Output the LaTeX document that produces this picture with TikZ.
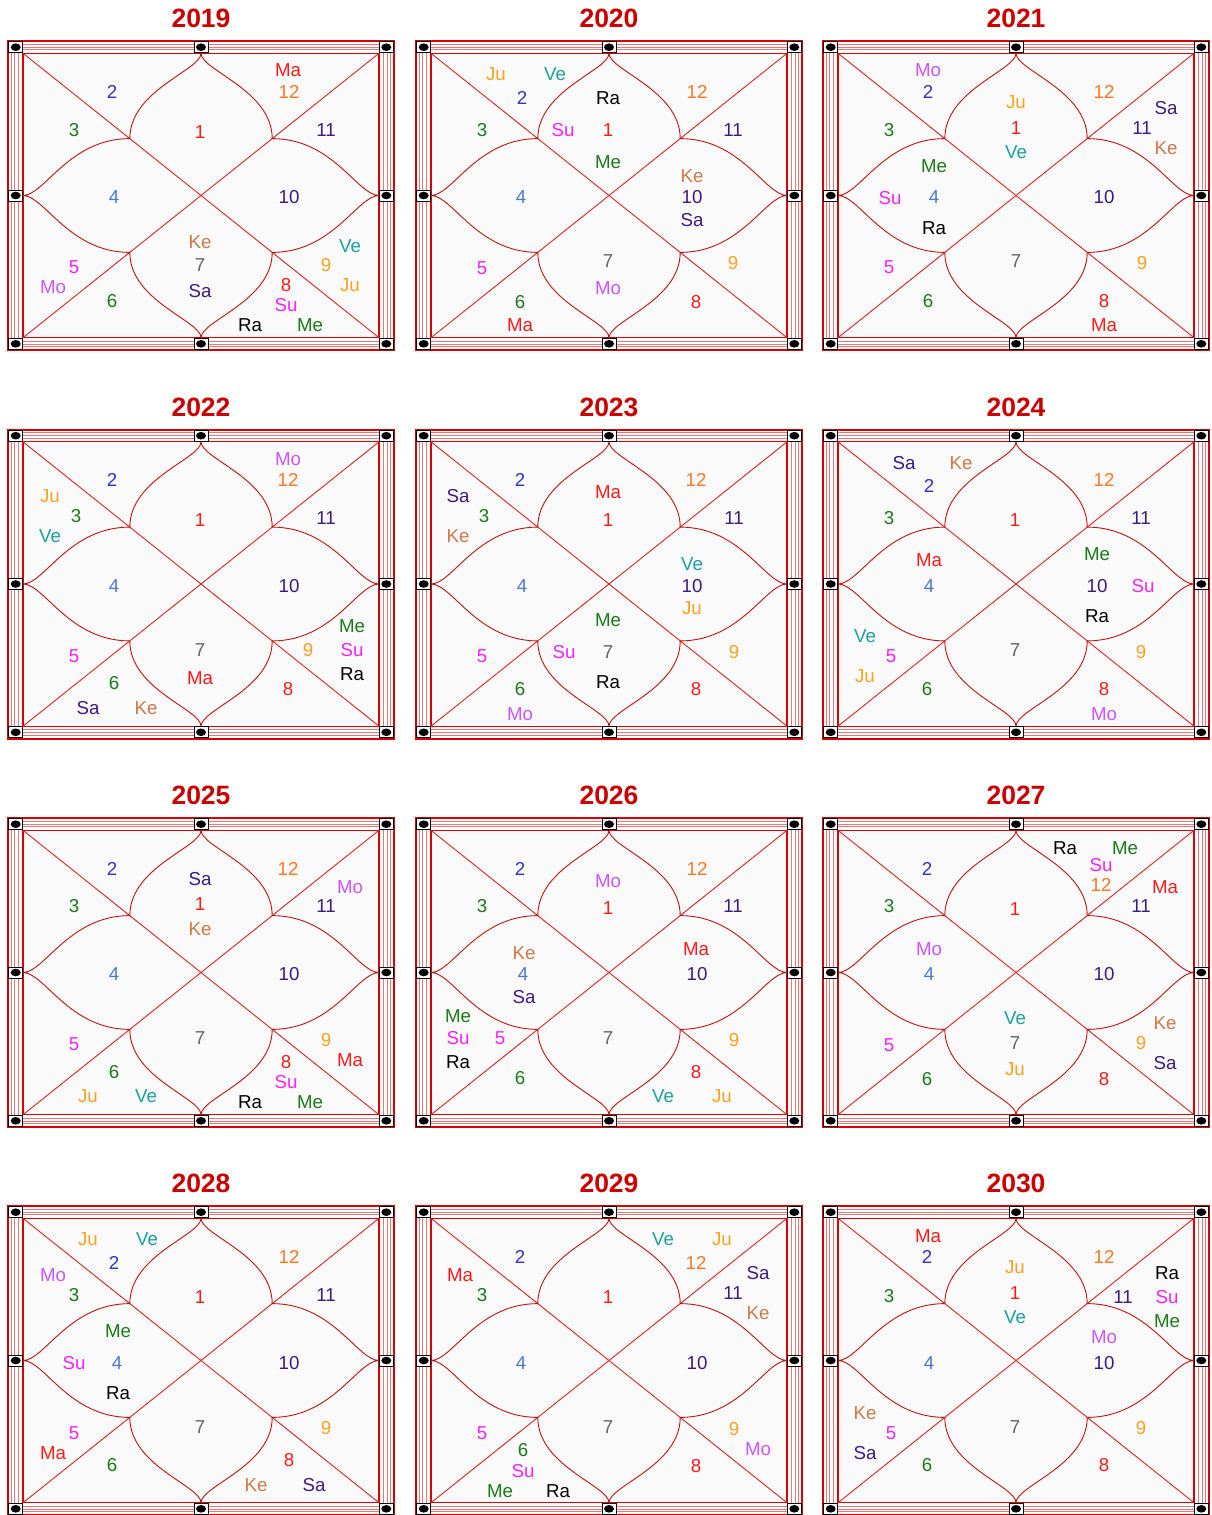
\documentclass[tikz,border=0pt]{standalone}
\usepackage{fontspec}
\setmainfont{Liberation Sans}

% house numbers
\definecolor{c1}{HTML}{FF1A1A}
\definecolor{c2}{HTML}{3333CC}
\definecolor{c3}{HTML}{1A7A1A}
\definecolor{c4}{HTML}{4A78D0}
\definecolor{c5}{HTML}{FF20FF}
\definecolor{c6}{HTML}{1A7A1A}
\definecolor{c7}{HTML}{666666}
\definecolor{c8}{HTML}{FF1A1A}
\definecolor{c9}{HTML}{FFA020}
\definecolor{c10}{HTML}{3D1A80}
\definecolor{c11}{HTML}{3D1A80}
\definecolor{c12}{HTML}{FF7722}
% planets
\definecolor{cMa}{HTML}{FF1A1A}
\definecolor{cVe}{HTML}{1AA0A0}
\definecolor{cJu}{HTML}{FFA020}
\definecolor{cMo}{HTML}{CC55FF}
\definecolor{cSa}{HTML}{3D1A80}
\definecolor{cKe}{HTML}{D07848}
\definecolor{cRa}{HTML}{000000}
\definecolor{cSu}{HTML}{FF20FF}
\definecolor{cMe}{HTML}{1A7A1A}
% frame
\definecolor{cYear}{HTML}{CC0000}
\definecolor{cRim}{HTML}{DD0000}
\definecolor{cBand}{HTML}{E87878}
\definecolor{cDiag}{HTML}{DD2222}
\definecolor{cPetal}{HTML}{C41010}
\definecolor{cField}{HTML}{FAFAFA}

% one chart: #1,#2 top-left corner, #3 year, #4 name
\newcommand{\kundli}[4]{%
\begin{scope}[shift={(#1,#2)}]
  \fill[field] (16,13.3) rectangle (372,297.7);
  \draw[band] (4.5,4.3) rectangle (383.5,306.7);
  \draw[band] (7.8,7) rectangle (380.2,304);
  \draw[band] (11.2,9.7) rectangle (376.8,301.3);
  \draw[rim, line width=1.2pt] (16,13.3) rectangle (372,297.7);
  \draw[rim, line width=2pt] (1,1) rectangle (387,310);
  \draw[diag] (16,13.3) -- (372,297.7);
  \draw[diag] (372,13.3) -- (16,297.7);
  \draw[petal] (194,13.3) .. controls (194,30.3) and (122.8,50) .. (122.8,98.6)
    .. controls (61.9,98.6) and (37.4,155.5) .. (16,155.5)
    .. controls (37.4,155.5) and (61.9,212.4) .. (122.8,212.4)
    .. controls (122.8,261) and (194,280.7) .. (194,297.7)
    .. controls (194,280.7) and (265.2,261) .. (265.2,212.4)
    .. controls (326.1,212.4) and (350.6,155.5) .. (372,155.5)
    .. controls (350.6,155.5) and (326.1,98.6) .. (265.2,98.6)
    .. controls (265.2,50) and (194,30.3) .. (194,13.3);
  \foreach \p/\q/\s in {8.7/7.2/tl, 194/7.2/tm, 379.3/7.2/tr, 8.7/155.5/ml,
      379.3/155.5/mr, 8.7/303.8/bl, 194/303.8/bm, 379.3/303.8/br}
    \node[stud] (#4-\s) at (\p,\q) {};
  \node[yr] (#4) at (194,-21.7) {#3};
\end{scope}}

\begin{document}
\begin{tikzpicture}[x=1pt, y=-1pt,
    field/.style={fill=cField},
    band/.style={draw=cBand, line width=0.9pt},
    rim/.style={draw=cRim},
    diag/.style={draw=cDiag, line width=0.9pt},
    petal/.style={draw=cPetal, line width=0.9pt},
    stud/.style={draw=black, line width=1pt, fill=white, inner sep=0pt,
      minimum width=14pt, minimum height=11pt,
      path picture={\fill[black] (path picture bounding box.center)
        ellipse [x radius=5pt, y radius=3.8pt];}},
    yr/.style={font=\fontsize{26.5pt}{30pt}\selectfont\bfseries, text=cYear,
      inner sep=0pt, text height=19pt, text depth=0pt},
    lbl/.style={font=\fontsize{18.7pt}{20pt}\selectfont, inner sep=0pt,
      text height=13.4pt, text depth=0pt}]
\fill[white] (0,0) rectangle (1211,1515);
\useasboundingbox (0,0) rectangle (1211,1515);

% row 1
\kundli{7}{40}{2019}{y2019}
\kundli{415}{40}{2020}{y2020}
\kundli{822}{40}{2021}{y2021}
% row 2
\kundli{7}{428.5}{2022}{y2022}
\kundli{415}{428.5}{2023}{y2023}
\kundli{822}{428.5}{2024}{y2024}
% row 3
\kundli{7}{817}{2025}{y2025}
\kundli{415}{817}{2026}{y2026}
\kundli{822}{817}{2027}{y2027}
% row 4
\kundli{7}{1205}{2028}{y2028}
\kundli{415}{1205}{2029}{y2029}
\kundli{822}{1205}{2030}{y2030}

% houses and planets
\foreach \t/\x/\y in {Ma/288/70, 12/289/92, 2/112/92, 3/74/130, 1/200/132,
    11/326/130, 4/114/197, 10/289/197, Ke/200/242, 7/200/265, Sa/200/291,
    Ve/350/246, 9/326/265, Ju/350/285, 5/74/267, Mo/53/287, 6/112/301,
    8/286/285, Su/286/305, Ra/250/325, Me/310/325}
  \node[lbl, text=c\t] (y2019-\t) at (\x,\y) {\t};
\foreach \t/\x/\y in {Ju/496/74, Ve/555/74, 2/522/98, Ra/608/98, 12/697/92,
    3/482/130, Su/563/130, 1/608/130, 11/733/130, Me/608/162, Ke/692/176,
    10/692/197, Sa/692/220, 4/521/197, 7/608/261, Mo/608/288, 5/482/268,
    9/733/263, 6/520/302, Ma/520/325, 8/696/302}
  \node[lbl, text=c\t] (y2020-\t) at (\x,\y) {\t};
\foreach \t/\x/\y in {Mo/928/70, 2/928/92, Ju/1016/102, 1/1016/128,
    Ve/1016/152, 12/1104/92, Sa/1166/108, 11/1142/128, Ke/1166/148,
    3/889/130, Me/934/166, Su/890/198, 4/934/197, Ra/934/228, 10/1104/197,
    5/889/267, 7/1016/261, 9/1142/263, 6/928/301, 8/1104/301, Ma/1104/325}
  \node[lbl, text=c\t] (y2021-\t) at (\x,\y) {\t};
\foreach \t/\x/\y in {Mo/288/459, 12/288/480, 2/112/480, Ju/50/496,
    3/76/516, Ve/50/536, 1/200/520, 11/326/518, 4/114/586, 10/289/586,
    Me/352/626, 9/308/650, Su/352/650, Ra/352/674, 5/74/656, 7/200/650,
    Ma/200/678, 6/114/683, Sa/88/708, Ke/146/708, 8/288/689}
  \node[lbl, text=c\t] (y2022-\t) at (\x,\y) {\t};
\foreach \t/\x/\y in {2/520/480, Sa/458/496, 3/484/516, Ke/458/536,
    Ma/608/492, 1/608/520, 12/696/480, 11/734/518, 4/522/586, Ve/692/564,
    10/692/586, Ju/692/608, Me/608/620, 5/482/656, Su/564/652, 7/608/652,
    Ra/608/682, 9/734/652, 6/520/689, Mo/520/714, 8/696/689}
  \node[lbl, text=c\t] (y2023-\t) at (\x,\y) {\t};
\foreach \t/\x/\y in {Sa/904/463, Ke/961/463, 2/929/486, 12/1104/480,
    3/889/518, 1/1015/520, 11/1141/518, Ma/929/560, 4/929/586, Me/1097/554,
    10/1097/586, Su/1143/586, Ra/1097/616, Ve/865/636, 5/891/656,
    Ju/865/676, 7/1015/650, 9/1141/652, 6/927/689, 8/1104/689, Mo/1104/714}
  \node[lbl, text=c\t] (y2024-\t) at (\x,\y) {\t};
\foreach \t/\x/\y in {2/112/869, Sa/200/879, 1/200/904, Ke/200/929,
    12/288/869, Mo/350/887, 11/326/906, 3/74/906, 4/114/974, 10/289/974,
    5/74/1044, 7/200/1038, 9/326/1040, Ma/350/1060, 8/286/1062, Su/286/1082,
    6/114/1072, Ju/88/1096, Ve/146/1096, Ra/250/1102, Me/310/1102}
  \node[lbl, text=c\t] (y2025-\t) at (\x,\y) {\t};
\foreach \t/\x/\y in {2/520/869, Mo/608/881, 1/608/908, 12/697/869,
    11/733/906, 3/482/906, Ke/524/953, 4/523/974, Sa/524/997, Ma/696/949,
    10/697/974, Me/458/1016, Su/458/1038, 5/500/1038, Ra/458/1062,
    7/608/1038, 9/734/1040, 6/520/1078, 8/696/1072, Ve/663/1096, Ju/722/1096}
  \node[lbl, text=c\t] (y2026-\t) at (\x,\y) {\t};
\foreach \t/\x/\y in {Ra/1065/848, Me/1125/848, Su/1101/865, 12/1101/885,
    Ma/1165/887, 11/1141/906, 2/927/869, 3/889/906, 1/1015/909, Mo/929/949,
    4/929/974, 10/1104/974, Ve/1015/1018, 7/1015/1043, Ju/1015/1069,
    Ke/1165/1023, 9/1141/1043, Sa/1165/1063, 5/889/1045, 6/927/1079,
    8/1104/1079}
  \node[lbl, text=c\t] (y2027-\t) at (\x,\y) {\t};
\foreach \t/\x/\y in {Ju/88/1239, Ve/147/1239, 2/114/1263, Mo/53/1275,
    3/74/1295, 1/200/1297, 12/289/1257, 11/326/1295, Me/118/1331,
    Su/74/1363, 4/117/1363, Ra/118/1393, 10/289/1363, 5/74/1433, Ma/53/1453,
    7/200/1427, 9/326/1428, 6/112/1465, 8/289/1460, Ke/256/1485, Sa/314/1485}
  \node[lbl, text=c\t] (y2028-\t) at (\x,\y) {\t};
\foreach \t/\x/\y in {2/520/1257, Ma/460/1275, 3/482/1295, Ve/663/1239,
    Ju/722/1239, 12/696/1263, Sa/758/1273, 11/733/1293, Ke/758/1313,
    1/608/1297, 4/521/1363, 10/697/1363, 5/482/1433, 7/608/1427, 9/734/1429,
    Mo/758/1449, 6/523/1450, Su/523/1471, 8/696/1466, Me/500/1491,
    Ra/558/1491}
  \node[lbl, text=c\t] (y2029-\t) at (\x,\y) {\t};
\foreach \t/\x/\y in {Ma/928/1236, 2/927/1257, Ju/1015/1267, 1/1015/1293,
    Ve/1015/1317, 12/1104/1257, Ra/1167/1273, 11/1123/1297, Su/1167/1297,
    Me/1167/1321, 3/889/1296, Mo/1104/1337, 10/1104/1363, 4/929/1363,
    Ke/865/1413, 5/891/1433, Sa/865/1453, 7/1015/1427, 9/1141/1428,
    6/927/1465, 8/1104/1465}
  \node[lbl, text=c\t] (y2030-\t) at (\x,\y) {\t};
\end{tikzpicture}
\end{document}
